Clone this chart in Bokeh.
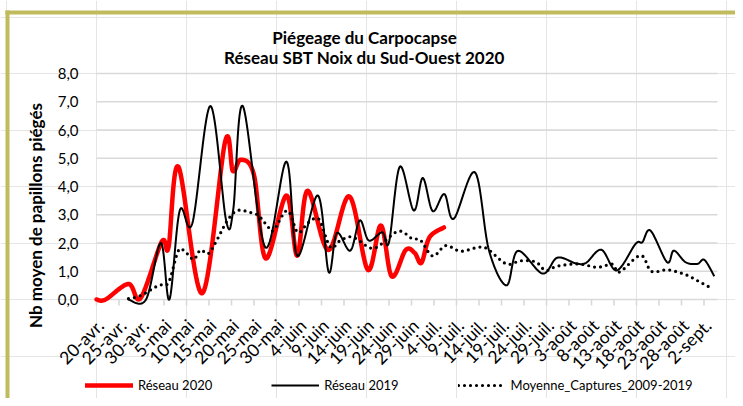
import math
import numpy as np
from bokeh.plotting import figure
from bokeh.models import Range1d, Legend, LegendItem
from bokeh.core.properties import value
from bokeh.embed import file_html
from bokeh.resources import INLINE

# ---- data (x = days since 20 April) ----
tick_days = list(range(0, 136, 5))
tick_labels = ["20-avr.", "25-avr.", "30-avr.", "5-mai", "10-mai", "15-mai", "20-mai",
               "25-mai", "30-mai", "4-juin", "9-juin", "14-juin", "19-juin", "24-juin",
               "29-juin", "4-juil.", "9-juil.", "14-juil.", "19-juil.", "24-juil.",
               "29-juil.", "3-août", "8-août", "13-août", "18-août", "23-août",
               "28-août", "2-sept."]
y_ticks = [0, 1, 2, 3, 4, 5, 6, 7, 8]
y_tick_labels = ["0,0", "1,0", "2,0", "3,0", "4,0", "5,0", "6,0", "7,0", "8,0"]

red_x = [0, 2, 7.1, 9.8, 14.5, 16, 18.2, 23.5, 28.6, 30.3, 32.1, 35, 37.6, 42.2, 44.6,
         46.9, 51.5, 56.2, 60.3, 63.2, 65.6, 68.7, 70.7, 72.2, 74.0, 77.2]
red_y = [0, 0, 0.55, 0.05, 2.05, 1.85, 4.7, 0.22, 5.6, 4.55, 4.95, 4.4, 1.45, 3.68, 1.55,
         3.85, 1.75, 3.65, 1.05, 2.62, 0.82, 1.75, 1.65, 1.3, 2.2, 2.55]

black_x = [7, 11, 14.3, 16.2, 18.5, 21.3, 25.3, 28.8, 30.4, 32.5, 37.5, 42.2, 44.6, 49.2,
           51.6, 53.4, 56.4, 58.5, 60.5, 63.5, 65, 67.4, 70.5, 72.5, 74.7, 77.3, 79.4,
           84.1, 87.2, 91.1, 93.6, 99.1, 102.4, 106.5, 108.8, 112.2, 115.6, 119.8, 121.3,
           123.1, 126.8, 128.3, 130.9, 133.5, 135.1, 137.3]
black_y = [0, 0, 2.0, 0, 3.15, 2.7, 6.85, 2.8, 3.2, 6.85, 1.85, 4.88, 1.55, 3.68,
           0.97, 2.35, 1.73, 2.8, 2.09, 2.38, 2.03, 4.7, 3.15, 4.3, 3.13, 3.73, 2.86,
           4.5, 1.75, 0.5, 1.72, 0.92, 1.48, 1.28, 1.3, 1.76, 1.03, 1.97, 2.03,
           2.44, 1.32, 1.73, 1.32, 1.26, 1.4, 0.82]

avg_x = [7.1, 9.8, 13.8, 16, 18.2, 19.8, 21.6, 23.1, 24.9, 26.9, 29.1, 31.3, 34.2, 36, 38,
         39.3, 42.4, 44.7, 46.9, 48.7, 49.8, 52, 54.2, 56.9, 60.9, 63.1, 67.1, 70.2, 72,
         74.7, 77.6, 80.9, 84.9, 86.9, 91.1, 94.2, 97.6, 99.8, 102.4, 107.1, 111.3, 114.7,
         116.2, 120.9, 123.3, 126.9, 130.9, 134.2, 136.9]
avg_y = [0.03, 0.14, 0.5, 0.6, 1.73, 1.67, 1.42, 1.75, 1.63, 2.15, 2.8, 3.15, 3.08, 2.97, 2.6,
         2.44, 3.15, 2.38, 2.7, 2.88, 2.74, 1.85, 2.09, 2.21, 1.82, 1.94, 2.42, 2.15, 2.1,
         1.54, 1.91, 1.71, 1.85, 1.79, 1.26, 1.37, 1.33, 1.03, 1.18, 1.26, 1.14, 1.25,
         0.97, 1.56, 1.0, 1.05, 0.88, 0.61, 0.38]

AXIS_END = 138  # right end of the value axis, in days


def smooth(xs, ys, n=24):
    """Excel-style smoothed line (Catmull-Rom -> cubic Bezier)."""
    P = np.column_stack([xs, ys]).astype(float)
    m = len(P)
    outx, outy = [P[0, 0]], [P[0, 1]]
    t = np.linspace(0, 1, n + 1)[1:]
    for i in range(m - 1):
        p0 = P[i - 1] if i > 0 else P[i]
        p1, p2 = P[i], P[i + 1]
        p3 = P[i + 2] if i + 2 < m else P[i + 1]
        c1 = p1 + (p2 - p0) / 6.0
        c2 = p2 - (p3 - p1) / 6.0
        for tt in t:
            a = (1 - tt) ** 3
            b = 3 * (1 - tt) ** 2 * tt
            c = 3 * (1 - tt) * tt ** 2
            d = tt ** 3
            pt = a * p1 + b * c1 + c * c2 + d * p2
            outx.append(pt[0])
            outy.append(pt[1])
    return outx, outy


# ---- layout: the plotting frame covers the whole canvas ----
W, H = 735, 398
PLOT_L, PLOT_B = 96.0, 299.0     # pixel position of (day 0, value 0)
PX_DAY, PX_VAL = 4.5, 28.25      # pixels per day / per unit


def X(px):
    return (px - PLOT_L) / PX_DAY


def Y(py):
    return (PLOT_B - py) / PX_VAL


FONT = "Lato"
OLIVE = "#C0BB5C"
GRID = "#D9D9D9"

p = figure(width=W, height=H, x_range=Range1d(X(0), X(W)), y_range=Range1d(Y(H), Y(0)),
           output_backend="svg", toolbar_location=None, title=None,
           x_axis_location=None, y_axis_location=None, min_border=0)
p.min_border_left = p.min_border_right = p.min_border_top = p.min_border_bottom = 0
p.outline_line_color = None
p.background_fill_color = "white"
p.border_fill_color = "white"

# gridlines (value axis)
p.segment(x0=[0] * len(y_ticks), y0=y_ticks, x1=[AXIS_END] * len(y_ticks), y1=y_ticks,
          line_color=GRID, line_width=1.6)
# category axis ticks
p.segment(x0=tick_days, y0=[0] * len(tick_days), x1=tick_days, y1=[Y(PLOT_B + 6)] * len(tick_days),
          line_color=GRID, line_width=1.6)
# tick labels
p.text(x=tick_days, y=[0] * len(tick_days), text=tick_labels, angle=math.pi / 4,
       x_offset=4, y_offset=23, text_align="right", text_baseline="middle",
       text_font=value(FONT), text_font_size="17.5px", text_color="black")
p.text(x=[0] * len(y_ticks), y=y_ticks, text=y_tick_labels, x_offset=-18,
       text_align="right", text_baseline="middle",
       text_font=value(FONT), text_font_size="15px", text_color="black")

# series
rx, ry = smooth(red_x, red_y)
r_red = p.line(rx, ry, line_color="#FF0000", line_width=4.5, line_join="round", line_cap="round")
bx, by = smooth(black_x, black_y)
r_black = p.line(bx, by, line_color="black", line_width=2, line_join="round")
ax, ay = smooth(avg_x, avg_y)
r_avg = p.line(ax, ay, line_color="black", line_width=3.2, line_dash="0 6", line_cap="round")

# titles
p.text(x=[X(364)] * 2, y=[Y(37), Y(57)],
       text=["Piégeage du Carpocapse", "Réseau SBT Noix du Sud-Ouest 2020"],
       text_align="center", text_baseline="middle", text_font=value(FONT),
       text_font_size="17px", text_font_style="bold", text_color="black")
p.text(x=[X(35)], y=[Y(215)], text=["Nb moyen de papillons piégés"], angle=math.pi / 2,
       text_align="center", text_baseline="middle", text_font=value(FONT),
       text_font_size="17px", text_font_style="bold", text_color="black")

# olive frame border (top and left edges)
p.quad(left=[X(5), X(5)], right=[X(9), X(W)], top=[Y(10), Y(10)], bottom=[Y(H), Y(14)],
       fill_color=OLIVE, line_color=None)

# legend
legend = Legend(items=[LegendItem(label="Réseau 2020", renderers=[r_red]),
                       LegendItem(label="Réseau 2019", renderers=[r_black]),
                       LegendItem(label="Moyenne_Captures_2009-2019", renderers=[r_avg])],
                location=(85, 3), orientation="horizontal", glyph_width=48, glyph_height=20,
                label_standoff=5, spacing=59, padding=0, margin=0, border_line_color=None,
                background_fill_alpha=0, label_text_font=FONT, label_text_font_size="13px",
                label_text_color="black")
p.add_layout(legend)

open("out.html", "w").write(file_html(p, INLINE))
